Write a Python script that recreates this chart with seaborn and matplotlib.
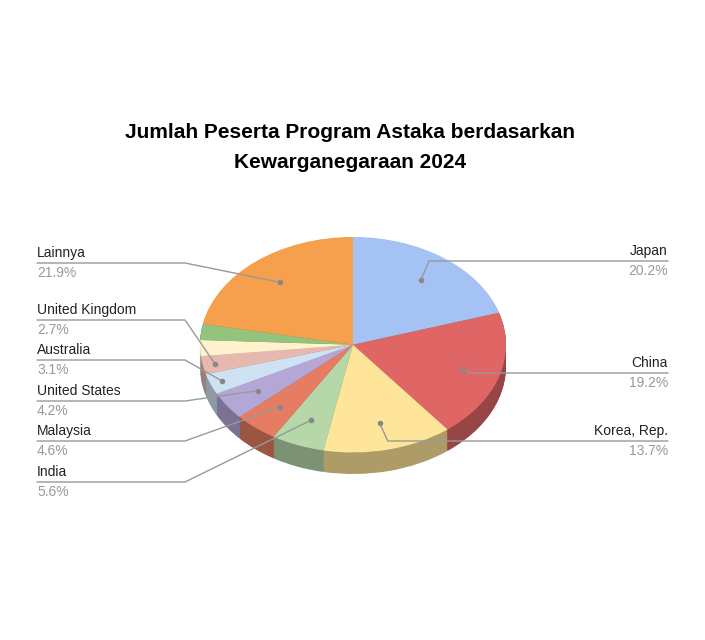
import matplotlib
matplotlib.use("Agg")
import matplotlib.pyplot as plt
import seaborn as sns
import numpy as np
from matplotlib.colors import to_rgb

sns.set_theme(style="white")
plt.rcParams['font.family'] = ['Liberation Sans', 'DejaVu Sans']

categories = ["Japan", "China", "Korea, Rep.", "India", "Malaysia", "United States",
              "Australia", "United Kingdom", "Lainnya2", "Lainnya3", "Lainnya"]
values = [20.2, 19.2, 13.7, 5.6, 4.6, 4.2, 3.1, 2.7, 2.4, 2.4, 21.9]
colors = ["#a4c2f4", "#e06666", "#ffe599", "#b6d7a8", "#e67c62", "#b4a7d6",
          "#cfe2f3", "#e6b8af", "#fff2cc", "#93c47d", "#f6a04d"]
labels_show = {"Japan": "20.2%", "China": "19.2%", "Korea, Rep.": "13.7%", "India": "5.6%",
               "Malaysia": "4.6%", "United States": "4.2%", "Australia": "3.1%",
               "United Kingdom": "2.7%", "Lainnya": "21.9%"}

W, H = 705, 640
fig = plt.figure(figsize=(W/100, H/100), dpi=100)
# pie axes in pixel box
x0, x1, y0, y1 = 200, 506, 237, 474
ax = fig.add_axes([x0/W, 1-y1/H, (x1-x0)/W, (y1-y0)/H])
depth = 0.2
dark = [tuple(c*0.68 for c in to_rgb(col)) for col in colors]
for d in np.linspace(depth, 0.005, 25):
    ax.pie(values, colors=dark, startangle=90, counterclock=False, center=(0, -d),
           wedgeprops=dict(linewidth=0))
wedges, _ = ax.pie(values, colors=colors, startangle=90, counterclock=False,
                   wedgeprops=dict(linewidth=0))
ax.set_aspect('auto')
ax.set_xlim(-1.0, 1.0)
ax.set_ylim(-1.0 - depth, 1.0)
ax.axis('off')

ov = fig.add_axes([0, 0, 1, 1], facecolor='none')
ov.set_xlim(0, W); ov.set_ylim(H, 0); ov.axis('off')

fig.canvas.draw()
def to_px(x, y):
    p = ax.transData.transform((x, y))
    return ov.transData.inverted().transform(p)

ov.text(350, 133, "Jumlah Peserta Program Astaka berdasarkan", ha='center', va='center',
        fontsize=15, fontweight='bold', color='black')
ov.text(350, 163, "Kewarganegaraan 2024", ha='center', va='center',
        fontsize=15, fontweight='bold', color='black')

label_pos = {
    "Japan": ("R", 261), "China": ("R", 373), "Korea, Rep.": ("R", 441),
    "Lainnya": ("L", 263), "United Kingdom": ("L", 320), "Australia": ("L", 360),
    "United States": ("L", 401), "Malaysia": ("L", 441), "India": ("L", 482),
}
lc = '#999999'
for w, cat in zip(wedges, categories):
    if cat not in label_pos:
        continue
    ang = np.deg2rad((w.theta1 + w.theta2) / 2)
    r = 0.75 if cat not in ("United Kingdom", "Australia") else 0.92
    px, py = to_px(r*np.cos(ang), r*np.sin(ang))
    side, ly = label_pos[cat]
    if side == "R":
        xs = [px, 668]; ys = [py, ly]
        ov.plot([px, px + 8, 668], [py, ly, ly], color=lc, lw=1)
        ov.text(668, ly - 3, cat, ha='right', va='bottom', fontsize=10, color='#222222')
        ov.text(668, ly + 3, labels_show[cat], ha='right', va='top', fontsize=10, color='#999999')
    else:
        ov.plot([37, 185, px], [ly, ly, py], color=lc, lw=1)
        ov.text(37, ly - 3, cat, ha='left', va='bottom', fontsize=10, color='#222222')
        ov.text(37, ly + 3, labels_show[cat], ha='left', va='top', fontsize=10, color='#999999')
    ov.plot(px, py, 'o', color='#888888', ms=3)

fig.savefig("out.png", dpi=100)
